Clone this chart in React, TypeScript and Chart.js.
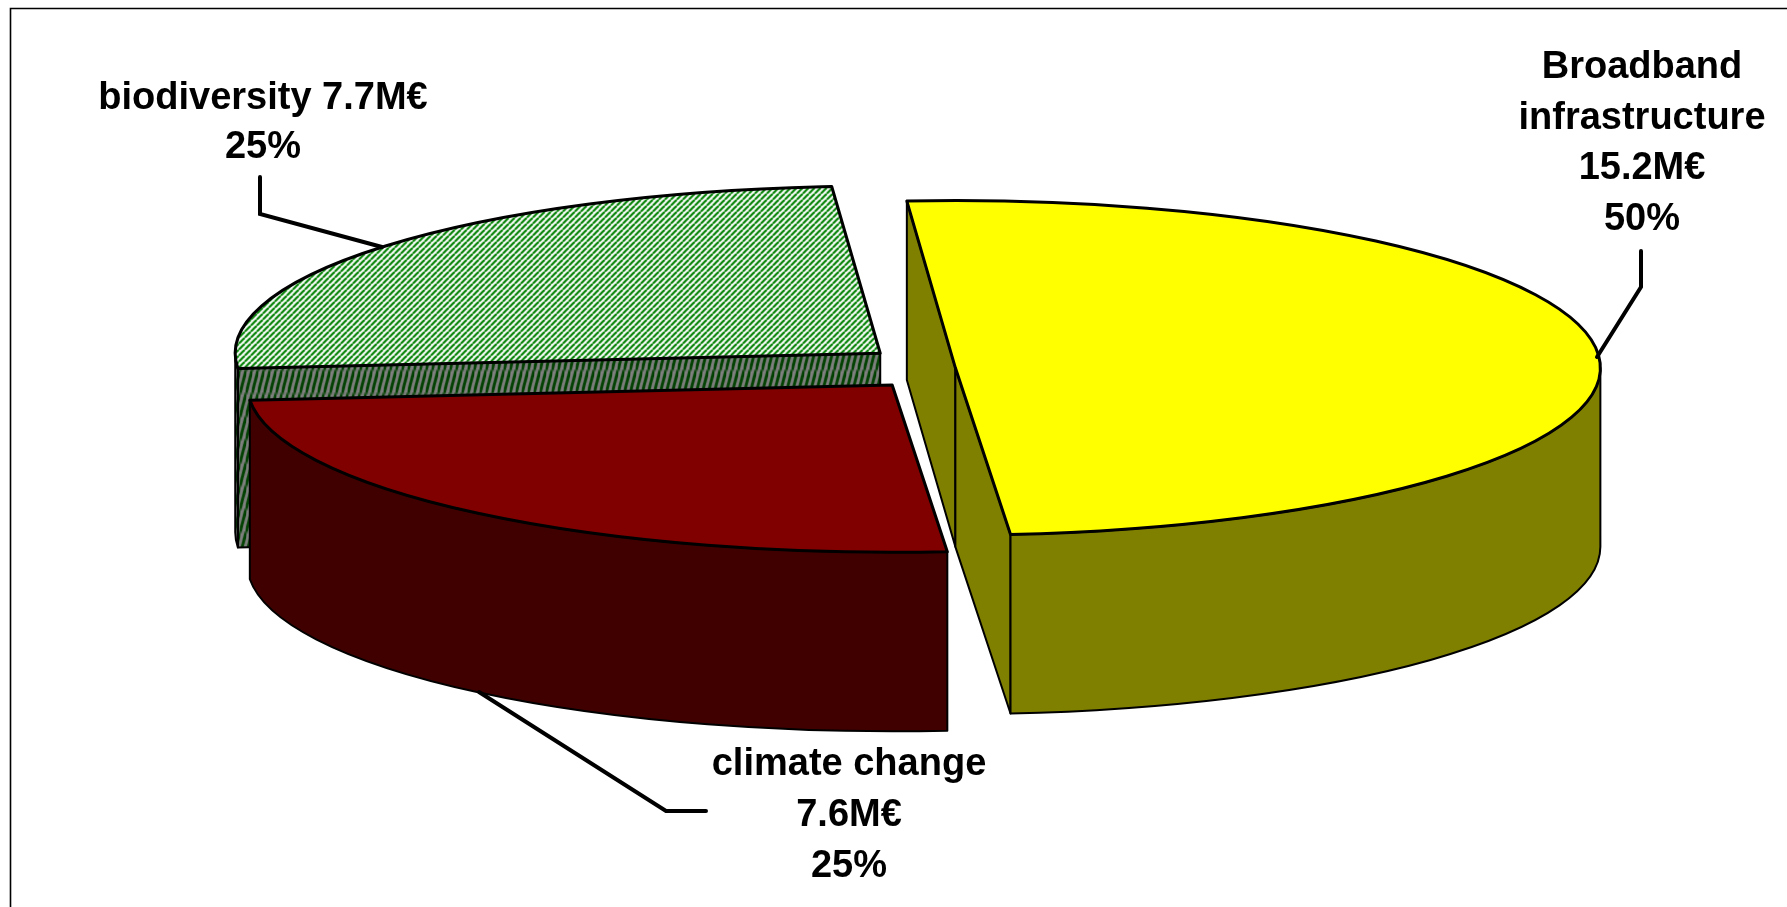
import React, { useEffect, useRef } from "react";
import { Chart, registerables } from "chart.js";

Chart.register(...registerables);

const categories = ["biodiversity", "Broadband infrastructure", "climate change"];
const valuesMEuro = [7.7, 15.2, 7.6];
const shares = ["25%", "50%", "25%"];
// Chart.js moves a slice by a quarter of its offset option
const sliceOffsets = [352, 32, 344];
const labelLines = [
  ["biodiversity 7.7M€", "25%"],
  ["Broadband", "infrastructure", "15.2M€", "50%"],
  ["climate change", "7.6M€", "25%"],
];

const W = 1787;
const H = 907;
const RADIUS = 645;
const TILT = 0.2593;
const DEPTH = 179;
const PIE_X = 947.4;
const PIE_Y = 368;
const FONT = "bold 38px 'Liberation Sans', Arial, sans-serif";

function stripes(dark: string, light: string) {
  const s = 6;
  const c = document.createElement("canvas");
  c.width = s;
  c.height = s;
  const g = c.getContext("2d")!;
  g.fillStyle = light;
  g.fillRect(0, 0, s, s);
  g.strokeStyle = dark;
  g.lineWidth = 2.2;
  for (let i = -s; i <= s * 2; i += s) {
    g.beginPath();
    g.moveTo(i, s);
    g.lineTo(i + s, 0);
    g.stroke();
  }
  const p = g.createPattern(c, "repeat")!;
  p.setTransform(new DOMMatrix().scale(1, 1 / TILT));
  return p;
}

const piePlugin = {
  id: "pie3d",
  beforeDatasetsDraw(chart: any) {
    const ctx: CanvasRenderingContext2D = chart.ctx;
    const meta = chart.getDatasetMeta(0);
    const walls = chart.data.datasets[0].wallColors;
    const r = meta.controller.outerRadius;
    meta.data.forEach((arc: any, i: number) => {
      const off = arc.options.offset / 4;
      const start = arc.startAngle;
      const end = arc.endAngle;
      const mid = (start + end) / 2;
      // undo the radius growth that the arc element adds for wide offset slices
      arc.outerRadius = r - off * (1 - Math.sin(Math.min(Math.PI, end - start)));
      const ox = PIE_X + Math.cos(mid) * off;
      const oy = PIE_Y + Math.sin(mid) * off * TILT;
      const at = (a: number) => [ox + r * Math.cos(a), oy + r * Math.sin(a) * TILT];

      ctx.save();
      ctx.strokeStyle = "#000";
      ctx.lineJoin = "round";

      const quad = (a: number, w: string) => {
        const p = at(a);
        ctx.beginPath();
        ctx.moveTo(ox, oy);
        ctx.lineTo(p[0], p[1]);
        ctx.lineTo(p[0], p[1] + DEPTH);
        ctx.lineTo(ox, oy + DEPTH);
        ctx.closePath();
        ctx.fillStyle = w;
        ctx.fill();
        ctx.lineWidth = 2;
        ctx.stroke();
      };
      // flat cut faces that look towards the viewer
      if (Math.sin(start - Math.PI / 2) > 0) quad(start, walls[i]);
      if (Math.sin(end + Math.PI / 2) > 0) quad(end, walls[i]);

      // outer curved wall: the parts of the sector in the front half of the ellipse
      const two = Math.PI * 2;
      for (let k = -1; k <= 1; k++) {
        const a1 = Math.max(start, k * two);
        const a2 = Math.min(end, k * two + Math.PI);
        if (a2 <= a1) continue;
        const p1 = at(a1);
        const p2 = at(a2);
        ctx.beginPath();
        ctx.moveTo(p1[0], p1[1]);
        ctx.ellipse(ox, oy, r, r * TILT, 0, a1, a2);
        ctx.lineTo(p2[0], p2[1] + DEPTH);
        ctx.ellipse(ox, oy + DEPTH, r, r * TILT, 0, a2, a1, true);
        ctx.closePath();
        ctx.fillStyle = walls[i];
        ctx.fill();
        ctx.lineWidth = 2;
        ctx.stroke();
      }

      // top face from the library's arc element, squashed into an ellipse
      ctx.save();
      ctx.translate(PIE_X, PIE_Y);
      ctx.scale(1, TILT);
      ctx.translate(-arc.x, -arc.y);
      arc.draw(ctx);
      ctx.restore();

      ctx.beginPath();
      ctx.moveTo(ox, oy);
      const s0 = at(start);
      ctx.lineTo(s0[0], s0[1]);
      ctx.ellipse(ox, oy, r, r * TILT, 0, start, end);
      ctx.closePath();
      ctx.lineWidth = 3;
      ctx.stroke();
      ctx.restore();
    });
    return false;
  },
  afterDraw(chart: any) {
    const ctx: CanvasRenderingContext2D = chart.ctx;
    ctx.save();
    ctx.strokeStyle = "#000";
    ctx.lineWidth = 1.6;
    ctx.beginPath();
    ctx.moveTo(10.5, H);
    ctx.lineTo(10.5, 8.5);
    ctx.lineTo(W, 8.5);
    ctx.stroke();

    ctx.lineWidth = 4;
    ctx.lineJoin = "miter";
    ctx.lineCap = "round";
    const leaders = [
      [[260, 177], [260, 214], [382, 247]],
      [[1641, 251], [1641, 287], [1597, 357]],
      [[706, 811], [666, 811], [479, 692]],
    ];
    leaders.forEach((l) => {
      ctx.beginPath();
      l.forEach((p, i) => (i ? ctx.lineTo(p[0], p[1]) : ctx.moveTo(p[0], p[1])));
      ctx.stroke();
    });

    ctx.fillStyle = "#000";
    ctx.font = FONT;
    ctx.textAlign = "center";
    ctx.textBaseline = "middle";
    const anchors = [
      { x: 263, y: 99, step: 49 },
      { x: 1642, y: 68, step: 50.5 },
      { x: 849, y: 765, step: 51 },
    ];
    labelLines.forEach((lines, i) => {
      lines.forEach((t, j) => ctx.fillText(t, anchors[i].x, anchors[i].y + j * anchors[i].step));
    });
    ctx.restore();
  },
};

export default function App() {
  const ref = useRef<HTMLCanvasElement>(null);
  useEffect(() => {
    document.body.style.margin = "0";
    document.body.style.background = "#fff";
    const chart = new Chart(ref.current!, {
      type: "pie",
      plugins: [piePlugin],
      data: {
        labels: categories.map((c, i) => `${c} ${shares[i]}`),
        datasets: [
          {
            data: valuesMEuro,
            backgroundColor: [stripes("#008000", "#ffffff"), "#ffff00", "#800000"],
            wallColors: [stripes("#004000", "#808080"), "#808000", "#400000"],
            borderWidth: 0,
            offset: sliceOffsets,
            clip: false,
          } as any,
        ],
      },
      options: {
        responsive: false,
        animation: false,
        devicePixelRatio: 1,
        rotation: -95.2,
        radius: RADIUS,
        plugins: { legend: { display: false }, tooltip: { enabled: false }, title: { display: false } },
        events: [],
      } as any,
    });
    return () => chart.destroy();
  }, []);
  return (
    <canvas
      ref={ref}
      width={W}
      height={H}
      style={{ position: "absolute", left: 0, top: 0, width: W, height: H, display: "block" }}
    />
  );
}
